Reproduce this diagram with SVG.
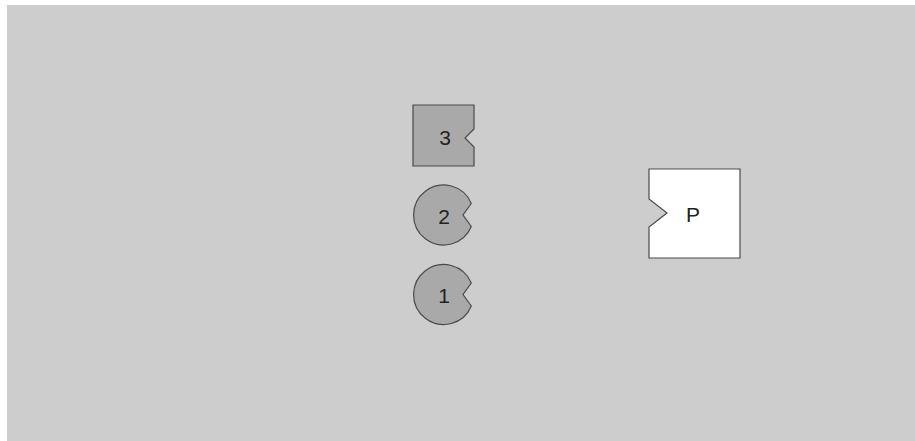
<svg xmlns="http://www.w3.org/2000/svg" width="915" height="441" viewBox="0 0 915 441">
<style>
.shape{fill:#a9a9a9;stroke:#4a4a4a;stroke-width:1.2}
.white{fill:#ffffff;stroke:#4a4a4a;stroke-width:1.2}
.lbl{font-family:"Liberation Sans",Arial,sans-serif;font-size:21px;fill:#222;text-anchor:middle;dominant-baseline:central}
</style>
<rect x="0" y="0" width="915" height="441" fill="#ffffff"/>
<rect x="7" y="5" width="908" height="436" fill="#cdcdcd"/>
<g id="node3">
<path class="shape" d="M413,105 H474 V129 L465,138 L474,147 V166 H413 Z"/>
<text class="lbl" x="445" y="137">3</text>
</g>
<g id="node2">
<path class="shape" d="M471.3,203.5 A30,30 0 1 0 471.3,226.5 L463,215 Z"/>
<text class="lbl" x="444" y="216">2</text>
</g>
<g id="node1">
<path class="shape" d="M471.3,283 A30,30 0 1 0 471.3,306 L463,294.5 Z"/>
<text class="lbl" x="444" y="295.5">1</text>
</g>
<g id="nodeP">
<path class="white" d="M649,169 H740 V258 H649 V227 L667,213 L649,199 Z"/>
<text class="lbl" x="693" y="214">P</text>
</g>
<g id="connectors"></g>
</svg>
